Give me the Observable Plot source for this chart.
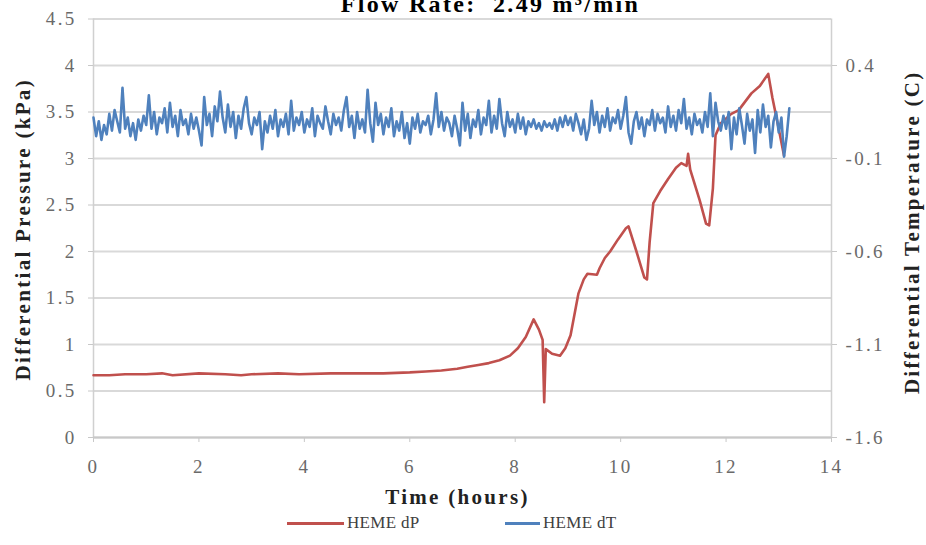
<!DOCTYPE html>
<html>
<head>
<meta charset="utf-8">
<script src="https://cdn.jsdelivr.net/npm/d3@7"></script>
<script src="https://cdn.jsdelivr.net/npm/@observablehq/plot@0.6"></script>
<style>
  html, body { margin: 0; padding: 0; background: #fff; }
  #wrap { position: relative; width: 926px; height: 545px; overflow: hidden; }
  #legend { position: absolute; top: 512px; left: 0; width: 926px; height: 24px;
    font-family: "Liberation Serif", serif; font-size: 17px; color: #404040; letter-spacing: 0.3px; }
  .sw { position: absolute; top: 10px; height: 3px; }
  .lt { position: absolute; top: 1px; white-space: nowrap; }
  svg text { letter-spacing: 2.3px; }
</style>
</head>
<body>
<div id="wrap"><div id="legend"></div></div>
<script>
// ---- data ----
const titleText = "Flow Rate:  2.49 m³/min";
const xTitle = "Time (hours)";
const yLeftTitle = "Differential Pressure (kPa)";
const yRightTitle = "Differential Temperature (C)";
const seriesNames = ["HEME dP", "HEME dT"];
const seriesColors = ["#c0504d", "#4f81bd"];

const xTicks = [0, 2, 4, 6, 8, 10, 12, 14];
const yLeftTicks = [0, 0.5, 1, 1.5, 2, 2.5, 3, 3.5, 4, 4.5];
const yRightTicks = [-1.6, -1.1, -0.6, -0.1, 0.4];

// HEME dP (kPa) : time (h) and value
const dPTime = [0, 0.3, 0.6, 1.0, 1.3, 1.5, 2.0, 2.5, 2.8, 3.0, 3.5, 3.9, 4.5, 5.0, 5.5, 6.0, 6.3, 6.6, 6.9, 7.1,
  7.3, 7.5, 7.7, 7.9, 8.05, 8.2, 8.35, 8.45, 8.52, 8.55, 8.58, 8.7, 8.85, 8.95, 9.05, 9.15, 9.2, 9.3, 9.37, 9.55,
  9.6, 9.7, 9.8, 9.95, 10.1, 10.15, 10.3, 10.45, 10.5, 10.55, 10.62, 10.75, 10.9, 11.05, 11.15, 11.25, 11.28, 11.32, 11.5, 11.62,
  11.68, 11.75, 11.8, 11.9, 12.1, 12.24, 12.48, 12.64, 12.8, 12.88, 12.97, 13.1];
const dPValue = [0.67, 0.67, 0.68, 0.68, 0.69, 0.67, 0.69, 0.68, 0.67, 0.68, 0.69, 0.68, 0.69, 0.69, 0.69, 0.70, 0.71, 0.72, 0.74, 0.76,
  0.78, 0.80, 0.83, 0.88, 0.96, 1.08, 1.27, 1.16, 1.05, 0.38, 0.95, 0.90, 0.88, 0.96, 1.10, 1.40, 1.55, 1.70, 1.76, 1.75,
  1.82, 1.93, 2.00, 2.13, 2.25, 2.27, 2.00, 1.72, 1.70, 2.10, 2.52, 2.65, 2.78, 2.90, 2.95, 2.92, 3.05, 2.88, 2.55, 2.30,
  2.28, 2.68, 3.25, 3.38, 3.48, 3.52, 3.70, 3.78, 3.91, 3.65, 3.40, 3.03];

// HEME dT (C), sampled every 0.05 h from 0 h
const dTStep = 0.05;
const dTValue = [
  0.12, 0.02, 0.10, 0.00, 0.08, 0.03, 0.14, 0.05, 0.16, 0.10, 0.04, 0.28, 0.06, 0.12, 0.02, 0.09, 0.00, 0.11, 0.05, 0.13,
  0.08, 0.24, 0.06, 0.15, 0.03, 0.12, 0.09, 0.17, 0.04, 0.20, 0.07, 0.13, 0.02, 0.16, 0.08, 0.11, 0.03, 0.14, 0.06, 0.12,
  0.05, -0.03, 0.23, 0.08, 0.14, 0.02, 0.18, 0.10, 0.26, 0.12, 0.04, 0.19, 0.07, 0.15, 0.01, 0.13, 0.06, 0.17, 0.23, 0.09,
  0.03, 0.12, 0.08, 0.15, -0.05, 0.10, 0.04, 0.13, 0.06, 0.16, 0.02, 0.11, 0.07, 0.14, 0.03, 0.21, 0.05, 0.12, 0.08, 0.15,
  0.04, 0.11, 0.07, 0.17, 0.02, 0.13, 0.09, 0.06, 0.18, 0.10, 0.03, 0.14, 0.08, 0.12, 0.05, 0.16, 0.23, 0.07, 0.13, 0.01,
  0.15, 0.06, 0.11, 0.04, 0.27, 0.09, -0.01, 0.20, 0.08, 0.14, 0.03, 0.12, 0.07, 0.17, 0.02, 0.10, 0.05, 0.15, 0.01, 0.09,
  -0.02, 0.12, 0.06, 0.14, 0.04, 0.10, 0.08, 0.13, 0.03, 0.11, 0.25, 0.07, 0.15, 0.05, 0.12, 0.09, 0.02, 0.13, 0.06, -0.03,
  0.20, 0.05, 0.14, 0.01, 0.11, 0.07, 0.16, 0.03, 0.12, 0.08, 0.21, 0.04, 0.13, 0.06, 0.22, 0.09, 0.02, 0.15, 0.07, 0.11,
  0.04, 0.14, 0.06, 0.12, 0.03, 0.10, 0.07, 0.11, 0.06, 0.09, 0.05, 0.10, 0.07, 0.09, 0.06, 0.11, 0.05, 0.12, 0.07, 0.13,
  0.08, 0.12, 0.05, 0.14, 0.09, 0.03, 0.11, 0.00, 0.06, 0.21, 0.08, 0.15, 0.04, 0.13, 0.07, 0.17, 0.05, 0.12, 0.09, 0.16,
  0.06, 0.13, 0.23, 0.04, -0.02, 0.10, 0.15, 0.06, 0.12, 0.02, 0.11, 0.08, 0.16, 0.05, 0.14, 0.09, 0.12, 0.04, 0.18, 0.07,
  0.13, 0.05, 0.16, 0.09, 0.22, 0.06, 0.12, 0.03, 0.14, 0.08, 0.11, 0.04, 0.15, 0.07, 0.25, 0.02, 0.20, 0.10, 0.05, 0.13,
  0.06, 0.15, -0.05, 0.12, 0.03, 0.17, 0.08, -0.02, 0.14, 0.05, 0.11, -0.07, 0.16, 0.04, 0.19, 0.07, 0.13, -0.04, 0.10, 0.15,
  0.04, 0.12, -0.09, 0.02, 0.17
];

// ---- build tables ----
const dP = dPTime.map((t, i) => ({t, v: dPValue[i]}));
const dT = dTValue.map((c, i) => ({t: +(i * dTStep).toFixed(2), c}));
// secondary axis: -1.6 C at 0 kPa, 0.5 C per 1 kPa
const cToK = c => (c + 1.6) * 2;

const serif = "'Liberation Serif', 'Times New Roman', serif";

const chart = Plot.plot({
  width: 926,
  height: 545,
  marginLeft: 93,
  marginRight: 95,
  marginTop: 18.5,
  marginBottom: 108,
  x: {domain: [0, 14], label: null},
  y: {domain: [0, 4.5], label: null},
  style: {fontFamily: serif, background: "#fff", overflow: "visible"},
  marks: [
    Plot.ruleY(yLeftTicks, {stroke: "#d9d9d9", strokeWidth: 2}),
    Plot.ruleX([0, 14], {stroke: "#d0d0d0", strokeWidth: 1.5}),
    Plot.ruleY([0], {stroke: "#c8c8c8", strokeWidth: 2}),
    Plot.axisY({anchor: "left", ticks: yLeftTicks, tickFormat: d => String(d), tickSize: 5, tickPadding: 12,
      fontSize: 19, stroke: "#c8c8c8", fill: "#6a6a6a", label: null}),
    Plot.axisY({anchor: "right", ticks: yRightTicks.map(cToK), tickFormat: (d, i) => yRightTicks[i].toFixed(1),
      tickSize: 5, tickPadding: 9, fontSize: 19, stroke: "#c8c8c8", fill: "#6a6a6a", label: null}),
    Plot.axisX({anchor: "bottom", ticks: xTicks, tickFormat: d => String(d), tickSize: 5, tickPadding: 17,
      fontSize: 19, stroke: "#c8c8c8", fill: "#6a6a6a", label: null}),
    Plot.line(dP, {x: "t", y: "v", stroke: seriesColors[0], strokeWidth: 2.6, curve: "linear"}),
    Plot.line(dT, {x: "t", y: d => cToK(d.c), stroke: seriesColors[1], strokeWidth: 2.6, curve: "linear"}),
    Plot.text([titleText], {frameAnchor: "top", dx: 28, dy: -7, lineAnchor: "bottom", fontSize: 24,
      fontWeight: "bold", fill: "#000", fontFamily: serif}),
    Plot.text([xTitle], {frameAnchor: "bottom", dx: -5, dy: 60, lineAnchor: "middle", fontSize: 21,
      fontWeight: "bold", fill: "#222", fontFamily: serif}),
    Plot.text([yLeftTitle], {frameAnchor: "left", textAnchor: "middle", dx: -70, dy: 1, rotate: -90, fontSize: 21,
      fontWeight: "bold", fill: "#222", fontFamily: serif}),
    Plot.text([yRightTitle], {frameAnchor: "right", textAnchor: "middle", dx: 81, dy: 4, rotate: -90, fontSize: 21,
      fontWeight: "bold", fill: "#222", fontFamily: serif})
  ]
});
document.getElementById("wrap").prepend(chart);

// ---- legend ----
const legend = document.getElementById("legend");
const legendPos = [[287, 347], [505, 543]];
seriesNames.forEach((name, i) => {
  const sw = document.createElement("div");
  sw.className = "sw";
  sw.style.left = legendPos[i][0] + "px";
  sw.style.width = (legendPos[i][1] - legendPos[i][0] - 3) + "px";
  sw.style.background = seriesColors[i];
  legend.appendChild(sw);
  const tx = document.createElement("div");
  tx.className = "lt";
  tx.style.left = legendPos[i][1] + "px";
  tx.textContent = name;
  legend.appendChild(tx);
});
</script>
</body>
</html>
